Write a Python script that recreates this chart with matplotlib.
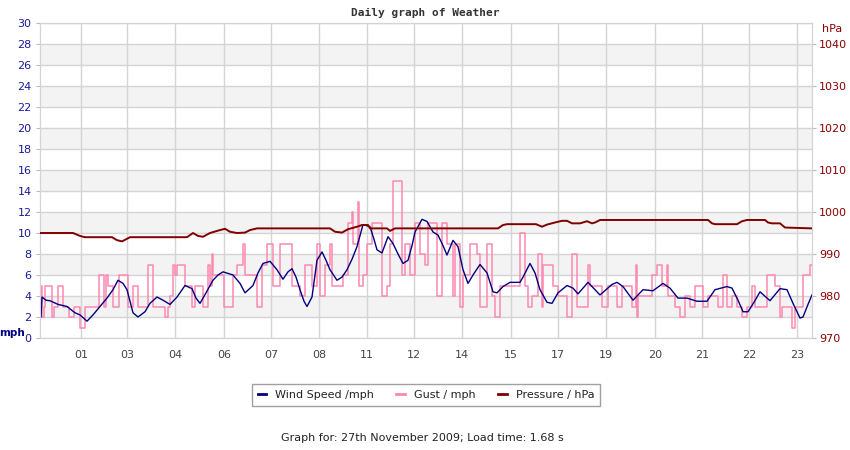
import matplotlib
matplotlib.use("Agg")
import matplotlib.pyplot as plt
import numpy as np

# ---- data (time in sample-offset units 0..772) ----
tick_pos = [41, 87, 135, 184, 231, 279, 327, 374, 422, 471, 518, 566, 615, 662, 709, 757]
tick_labels = ["01", "03", "04", "06", "07", "08", "11", "12", "14", "15", "17", "19", "20", "21", "22", "23"]

wind_t = [1, 2, 6, 10, 18, 27, 35, 40, 47, 53, 60, 67, 73, 78, 83, 87, 93, 98, 105, 110, 117, 123,
          130, 137, 145, 152, 156, 160, 166, 173, 178, 183, 193, 200, 205, 213, 218, 223, 230, 237,
          243, 248, 252, 256, 260, 264, 267, 272, 277, 282, 286, 290, 297, 302, 307, 312, 317, 323,
          330, 334, 337, 342, 348, 353, 358, 363, 368, 372, 375, 382, 387, 393, 398, 403, 407, 413,
          418, 423, 428, 433, 440, 447, 453, 457, 463, 470, 480, 483, 490, 495, 500, 507, 512, 518,
          527, 533, 538, 548, 555, 560, 566, 572, 577, 583, 593, 603, 613, 623, 630, 638, 647, 657,
          667, 675, 687, 692, 698, 703, 708, 714, 720, 730, 740, 747, 753, 760, 763, 768, 772]
wind_v = [2.0, 3.9, 3.6, 3.55, 3.2, 3.0, 2.4, 2.2, 1.6, 2.2, 3.0, 3.8, 4.6, 5.5, 5.2, 4.6, 2.4, 2.0,
          2.5, 3.3, 3.9, 3.6, 3.2, 3.9, 5.0, 4.7, 3.8, 3.3, 4.3, 5.5, 6.0, 6.3, 6.0, 5.2, 4.3, 5.0,
          6.2, 7.1, 7.3, 6.5, 5.6, 6.3, 6.6, 5.8, 4.6, 3.5, 3.0, 3.9, 7.4, 8.2, 7.4, 6.5, 5.5, 5.8,
          6.5, 7.5, 8.7, 10.8, 10.6, 9.4, 8.4, 8.1, 9.65, 9.0, 8.0, 7.1, 7.4, 8.8, 10.1, 11.3, 11.1,
          10.1, 9.8, 8.8, 7.9, 9.3, 8.7, 6.5, 5.2, 6.0, 7.0, 6.2, 4.4, 4.3, 4.9, 5.3, 5.3, 5.8, 7.1,
          6.2, 4.6, 3.4, 3.3, 4.3, 5.0, 4.75, 4.2, 5.3, 4.6, 4.1, 4.6, 5.1, 5.3, 4.9, 3.6, 4.6, 4.5,
          5.2, 4.75, 3.8, 3.8, 3.5, 3.5, 4.6, 4.9, 4.75, 3.6, 2.5, 2.5, 3.4, 4.4, 3.55, 4.7, 4.6,
          3.3, 1.9, 2.0, 3.2, 4.1]

gust_t = [0, 1, 2, 4, 5, 12, 14, 18, 23, 29,
          34, 40, 45, 59, 64, 66, 68, 73, 79, 88,
          93, 98, 108, 113, 125, 128, 130, 133, 135, 137,
          145, 152, 155, 163, 168, 170, 172, 173, 184, 193,
          197, 203, 205, 217, 222, 227, 233, 240, 252, 260,
          265, 272, 277, 280, 285, 290, 292, 303, 308, 312,
          313, 318, 319, 323, 327, 332, 342, 347, 350, 353,
          362, 365, 370, 375, 380, 385, 388, 397, 402, 407,
          413, 415, 420, 423, 430, 437, 440, 447, 452, 455,
          460, 480, 485, 488, 492, 498, 502, 503, 513, 518,
          527, 532, 537, 548, 550, 562, 568, 577, 582, 592,
          596, 597, 598, 612, 617, 622, 627, 628, 635, 640,
          645, 650, 655, 663, 668, 678, 683, 687, 692, 697,
          702, 707, 712, 715, 727, 735, 740, 742, 752, 755,
          763, 770]
gust_v = [3, 5, 2, 3, 5, 2, 3, 5, 3, 2,
          3, 1, 3, 6, 3, 6, 5, 3, 6, 3,
          5, 3, 7, 3, 2, 3, 4, 7, 6, 7,
          5, 3, 5, 3, 7, 5, 8, 6, 3, 6,
          7, 9, 6, 3, 7, 9, 5, 9, 5, 4,
          7, 5, 9, 4, 7, 9, 5, 6, 11, 12,
          9, 13, 5, 6, 9, 11, 4, 5, 9, 15,
          6, 9, 6, 11, 8, 7, 11, 4, 11, 9,
          4, 9, 3, 6, 9, 8, 3, 9, 4, 2,
          5, 10, 5, 3, 4, 8, 3, 7, 5, 4,
          2, 8, 3, 7, 5, 3, 5, 3, 5, 3,
          7, 2, 4, 6, 7, 5, 7, 4, 3, 2,
          4, 3, 5, 3, 4, 3, 6, 3, 4, 3,
          2, 3, 5, 3, 6, 5, 2, 3, 1, 3,
          6, 7]

pres_t = [0, 33, 40, 45, 72, 77, 82, 90, 147, 153, 158, 163, 170, 180, 185, 190, 197, 205, 210, 217,
          290, 295, 302, 308, 317, 322, 328, 330, 347, 350, 355, 458, 463, 467, 496, 502, 507, 515,
          522, 527, 532, 540, 547, 552, 555, 560, 668, 672, 675, 697, 702, 707, 725, 728, 732, 740,
          745, 772]
pres_v = [995, 995, 994.3, 994.0, 994.0, 993.3, 993.0, 994.0, 994.0, 995, 994.3, 994.1, 995, 995.7,
          996, 995.3, 995, 995.1, 995.7, 996.1, 996.1, 995.3, 995.1, 995.9, 996.5, 996.9, 996.9,
          996.1, 996.1, 995.5, 996.1, 996.1, 996.9, 997.1, 997.1, 996.5, 997.0, 997.5, 997.9, 997.9,
          997.3, 997.3, 997.8, 997.3, 997.5, 998.1, 998.1, 997.3, 997.1, 997.1, 997.8, 998.1, 998.1,
          997.5, 997.3, 997.3, 996.3, 996.1]

mph_ticks = list(range(0, 31, 2))
hpa_ticks = list(range(970, 1041, 10))

# ---- styling ----
NAVY = "#000080"
PINK = "#ff88b0"
DRED = "#800000"
GRID = "#d4d4d4"

fig = plt.figure(figsize=(8.5, 4.5), dpi=100)
ax = fig.add_axes([40/850, 1-338/450, 772/850, 315/450])
ax.set_xlim(0, 772)
ax.set_ylim(0, 30)

# alternating bands
for lo in range(2, 30, 4):
    ax.axhspan(lo, lo + 2, color="#f3f3f3", zorder=0, lw=0)
for y in mph_ticks:
    ax.axhline(y, color=GRID, lw=1, zorder=1)
for x in tick_pos:
    ax.axvline(x, color=GRID, lw=1, zorder=1)

ax.step(gust_t + [772], gust_v + [gust_v[-1]], where="post", color=PINK, lw=1.1, zorder=3)
ax.plot(wind_t, wind_v, color=NAVY, lw=1.0, zorder=4)

ax2 = ax.twinx()
ax2.set_ylim(970, 1045)
ax2.plot(pres_t, pres_v, color=DRED, lw=1.4, zorder=5)

ax.set_xticks(tick_pos)
ax.set_xticklabels(tick_labels)
ax.set_yticks(mph_ticks)
ax2.set_yticks(hpa_ticks)

for s in ax.spines.values():
    s.set_color(GRID)
for s in ax2.spines.values():
    s.set_color(GRID)

ax.tick_params(axis="x", length=0, pad=9, labelsize=8, labelcolor="#444444")
ax.tick_params(axis="y", length=3, color="#bbbbbb", pad=3, labelsize=8, labelcolor="#1a1a9a")
ax2.tick_params(axis="y", length=3, color="#bbbbbb", pad=2, labelsize=8, labelcolor="#8b0000")

fig.text(12/850, 1-333/450, "mph", color=NAVY, fontsize=7.5, fontweight="bold",
         ha="center", va="center")
fig.text(832/850, 1-29/450, "hPa", color="#8b0000", fontsize=8, ha="center", va="center")

fig.text(425/850, 1-13/450, "Daily graph of Weather", family="DejaVu Sans Mono",
         fontweight="bold", fontsize=8, color="#333333", ha="center", va="center")

handles = [plt.Line2D([], [], color=NAVY, lw=2),
           plt.Line2D([], [], color=PINK, lw=2),
           plt.Line2D([], [], color=DRED, lw=2)]
leg = fig.legend(handles, ["Wind Speed /mph", "Gust / mph", "Pressure / hPa"],
                 loc="center", bbox_to_anchor=(426/850, 1-395/450), ncol=3,
                 fontsize=8, frameon=True, fancybox=False, handlelength=0.8,
                 handletextpad=0.8, columnspacing=2.0, borderpad=0.5)
leg.get_frame().set_edgecolor("#888888")
leg.get_frame().set_linewidth(1)
for t in leg.get_texts():
    t.set_color("#222222")

fig.text(422/850, 1-438/450, "Graph for: 27th November 2009; Load time: 1.68 s",
         fontsize=8, color="#222222", ha="center", va="center")

fig.savefig("out.png", dpi=100)
